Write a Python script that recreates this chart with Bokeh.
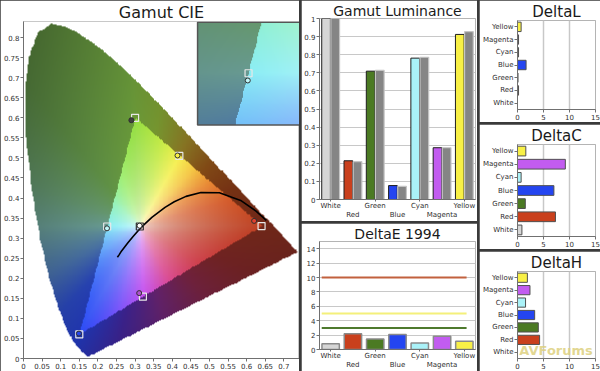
import numpy as np
from bokeh.plotting import figure
from bokeh.layouts import row, column
from bokeh.models import (Range1d, FixedTicker, CustomJSTickFormatter, LinearAxis,
                          ColumnDataSource, Label)
from bokeh.transform import dodge
from bokeh.embed import file_html
from bokeh.resources import INLINE

FONT = "DejaVu Sans"

# ---------------- data ----------------
categories = ["White", "Red", "Green", "Blue", "Cyan", "Magenta", "Yellow"]
lum_measured = [1.0, 0.214, 0.709, 0.077, 0.781, 0.286, 0.912]
lum_target = [1.0, 0.209, 0.713, 0.072, 0.786, 0.286, 0.927]
delta_e = [0.8, 2.2, 1.45, 2.1, 0.92, 1.85, 1.15]
delta_e_limits = [10, 5, 3]
delta_l = [0.0, 0.2, 0.1, 1.65, 0.2, 0.2, 0.7]
delta_c = [0.85, 7.3, 1.5, 7.0, 0.7, 9.2, 1.6]
delta_h = [0.0, 4.25, 4.0, 3.3, 1.55, 2.4, 1.9]

target_x = [0.3127, 0.64, 0.30, 0.15, 0.225, 0.321, 0.419]
target_y = [0.329, 0.33, 0.60, 0.06, 0.329, 0.154, 0.505]
meas_x = [0.312, 0.620, 0.290, 0.149, 0.2245, 0.311, 0.414]
meas_y = [0.331, 0.343, 0.594, 0.062, 0.3245, 0.163, 0.506]

# CIE 1931 spectral locus (380 .. 700 nm)
locus_x = [0.1741, 0.1733, 0.1714, 0.1689, 0.1644, 0.1566, 0.1440, 0.1355, 0.1241, 0.1096,
           0.0913, 0.0687, 0.0454, 0.0235, 0.0082, 0.0039, 0.0139, 0.0389, 0.0743, 0.1142,
           0.1547, 0.1929, 0.2296, 0.2658, 0.3016, 0.3373, 0.3731, 0.4087, 0.4441, 0.4788,
           0.5125, 0.5448, 0.5752, 0.6029, 0.6270, 0.6658, 0.6915, 0.7079, 0.7190, 0.7260,
           0.7300, 0.7334, 0.7347]
locus_y = [0.0050, 0.0048, 0.0051, 0.0069, 0.0109, 0.0177, 0.0297, 0.0399, 0.0578, 0.0868,
           0.1327, 0.2007, 0.2950, 0.4127, 0.5384, 0.6548, 0.7502, 0.8120, 0.8338, 0.8262,
           0.8059, 0.7816, 0.7543, 0.7243, 0.6923, 0.6589, 0.6245, 0.5896, 0.5547, 0.5202,
           0.4866, 0.4544, 0.4242, 0.3965, 0.3725, 0.3340, 0.3083, 0.2920, 0.2809, 0.2740,
           0.2700, 0.2666, 0.2653]

# Planckian locus (25000 K .. 1000 K)
planck_x = [0.2524, 0.2565, 0.2637, 0.2807, 0.2952, 0.3064, 0.3221, 0.3451, 0.3805,
            0.4053, 0.4369, 0.4770, 0.5267, 0.5857, 0.6251, 0.6528]
planck_y = [0.2522, 0.2577, 0.2682, 0.2883, 0.3048, 0.3166, 0.3318, 0.3516, 0.3768,
            0.3907, 0.4041, 0.4137, 0.4133, 0.3931, 0.3674, 0.3444]

cie_ticks_x = [0, 0.05, 0.1, 0.15, 0.2, 0.25, 0.3, 0.35, 0.4, 0.45, 0.5, 0.55, 0.6, 0.65, 0.7, 0.75]
cie_ticks_y = [0, 0.05, 0.1, 0.15, 0.2, 0.25, 0.3, 0.35, 0.4, 0.45, 0.5, 0.55, 0.6, 0.65, 0.7, 0.75, 0.8]
lum_ticks = [0, 0.1, 0.2, 0.3, 0.4, 0.5, 0.6, 0.7, 0.8, 0.9, 1.0]
de_ticks = [0, 2, 4, 6, 8, 10, 12, 14]
delta_ticks = [0, 5, 10, 15]

# ---------------- styles ----------------
bar_colors = ["#d6d6d6", "#c9401d", "#4b7a23", "#2445f0", "#aaf2f8", "#c25cf0", "#f8f046"]
circle_fill = ["#ffffff", "#e04030", "#404040", "#2445f0", "#bff6f8", "#b050d0", "#f8f046"]
square_line = ["#303030", "#e8e8e8", "#e8e8e8", "#e8e8e8", "#e8e8e8", "#e8e8e8", "#e8e8e8"]
limit_colors = ["#c2613e", "#f4f07a", "#4e7a2e"]

pal_in_a = [0, 15, 30, 45, 59, 75, 93, 110, 140, 180, 210, 239, 255, 273, 300, 330, 360]
pal_in_c = np.array([(190, 66, 36), (212, 90, 42), (232, 135, 50), (245, 198, 66), (246, 240, 80),
                     (196, 234, 70), (150, 222, 66), (160, 238, 112), (150, 242, 186),
                     (140, 238, 245), (100, 165, 250), (45, 75, 245), (125, 85, 250),
                     (198, 84, 240), (218, 74, 145), (206, 64, 76), (190, 66, 36)], float)
pal_out_a = [0, 20, 40, 60, 80, 95, 130, 160, 180, 205, 225, 240, 260, 285, 315, 340, 360]
pal_out_c = np.array([(112, 40, 25), (118, 50, 20), (130, 75, 22), (136, 118, 36), (118, 150, 48),
                      (104, 152, 58), (98, 148, 72), (102, 152, 112), (104, 154, 146),
                      (72, 112, 165), (40, 68, 178), (32, 52, 172), (60, 34, 138),
                      (98, 34, 106), (112, 34, 62), (112, 35, 35), (112, 40, 25)], float)


def in_poly(px, py, vx, vy):
    inside = np.zeros(px.shape, bool)
    n = len(vx)
    j = n - 1
    for i in range(n):
        xi, yi, xj, yj = vx[i], vy[i], vx[j], vy[j]
        cond = ((yi > py) != (yj > py)) & (px < (xj - xi) * (py - yi) / (yj - yi + 1e-12) + xi)
        inside ^= cond
        j = i
    return inside


W = (target_x[0], target_y[0])
TRI = [(target_x[1], target_y[1]), (target_x[2], target_y[2]), (target_x[3], target_y[3])]


def gauge(X, Y):
    t = np.full(X.shape, -np.inf)
    for i in range(3):
        vi, vj = TRI[i], TRI[(i + 1) % 3]
        nx_, ny_ = vj[1] - vi[1], -(vj[0] - vi[0])
        den = nx_ * (vi[0] - W[0]) + ny_ * (vi[1] - W[1])
        t = np.maximum(t, (nx_ * (X - W[0]) + ny_ * (Y - W[1])) / den)
    return t


def shade(X, Y):
    ang = np.degrees(np.arctan2(Y - W[1], X - W[0])) % 360
    t = gauge(X, Y)
    inner = np.stack([np.interp(ang, pal_in_a, pal_in_c[:, k]) for k in range(3)], -1)
    outer = np.stack([np.interp(ang, pal_out_a, pal_out_c[:, k]) for k in range(3)], -1)
    s = (np.clip(t, 0, 1) ** 0.42)[..., None]
    col_in = 255 * (1 - s) + inner * s
    f = np.clip(1 - 0.08 * (t - 1), 0.65, 1)[..., None]
    col_out = outer * f
    return np.where((t <= 1)[..., None], col_in, col_out)


def rgba_image(X, Y, mask):
    col = np.clip(shade(X, Y), 0, 255).astype(np.uint8)
    img = np.zeros(X.shape, dtype=np.uint32)
    view = img.view(dtype=np.uint8).reshape(X.shape + (4,))
    view[..., 0] = col[..., 0]
    view[..., 1] = col[..., 1]
    view[..., 2] = col[..., 2]
    view[..., 3] = np.where(mask, 255, 0)
    return img


# main diagram image
NX, NY = 340, 380
XW, YH = 0.75, 0.85
gx = (np.arange(NX) + 0.5) / NX * XW
gy = (np.arange(NY) + 0.5) / NY * YH
GX, GY = np.meshgrid(gx, gy)
main_img = rgba_image(GX, GY, in_poly(GX, GY, locus_x, locus_y))

# inset (zoom around cyan)
ZOOM = 4.0
IX0, IX1, IY0, IY1 = 0.468, 0.75, 0.582, 0.838
ICX, ICY = 0.605, 0.711
cx, cy = target_x[4], target_y[4]
inx, iny = 120, 110
ux = IX0 + (np.arange(inx) + 0.5) / inx * (IX1 - IX0)
uy = IY0 + (np.arange(iny) + 0.5) / iny * (IY1 - IY0)
UX, UY = np.meshgrid(ux, uy)
SX = cx + (UX - ICX) / ZOOM
SY = cy + (UY - ICY) / ZOOM
inset_img = rgba_image(SX, SY, np.ones(UX.shape, bool))

tick_fmt = CustomJSTickFormatter(code="return (Math.round(tick*100)/100).toString();")


def style(p, title_size="12px"):
    p.title.text_font = FONT
    p.title.text_font_size = title_size
    p.title.text_font_style = "normal"
    p.title.align = "center"
    p.title.text_color = "#1a1a1a"
    p.title.standoff = 0
    p.outline_line_color = "#b4b4b4"
    p.background_fill_color = "white"
    p.border_fill_color = "white"
    for ax in p.axis:
        ax.axis_label = None
        ax.major_label_text_font = FONT
        ax.major_label_text_font_size = "7px"
        ax.major_label_text_color = "#303030"
        ax.axis_line_color = "#707070"
        ax.major_tick_line_color = "#707070"
        ax.major_tick_in = 0
        ax.major_tick_out = 3
        ax.minor_tick_line_color = None
        ax.major_label_standoff = 1


# ---------------- CIE ----------------
cie = figure(width=299, height=371, x_range=Range1d(0, 0.742), y_range=Range1d(0, 0.84),
             title="Gamut CIE", output_backend="svg", toolbar_location=None,
             min_border_left=0, min_border_right=0, min_border_top=0, min_border_bottom=0)
cie.image_rgba(image=[main_img], x=0, y=0, dw=XW, dh=YH)
cie.line(planck_x, planck_y, line_color="black", line_width=1.6)
cie.scatter(target_x, target_y, marker="square", size=7, fill_color=None,
            line_color=square_line, line_width=1.2)
cie.scatter(meas_x, meas_y, marker="circle", size=5, fill_color=circle_fill,
            line_color="#303030", line_width=1)
cie.image_rgba(image=[inset_img], x=IX0, y=IY0, dw=IX1 - IX0, dh=IY1 - IY0)
cie.quad(left=[IX0], right=[IX1], bottom=[IY0], top=[IY1], fill_color=None,
         line_color="#555555", line_width=1.5)
cie.scatter([ICX + ZOOM * (target_x[4] - cx)], [ICY + ZOOM * (target_y[4] - cy)],
            marker="square", size=7, fill_color=None, line_color="#e8e8e8", line_width=1.2)
cie.scatter([ICX + ZOOM * (meas_x[4] - cx)], [ICY + ZOOM * (meas_y[4] - cy)],
            marker="circle", size=5, fill_color=circle_fill[4], line_color="#303030")
cie.xaxis.ticker = FixedTicker(ticks=cie_ticks_x)
cie.yaxis.ticker = FixedTicker(ticks=cie_ticks_y)
cie.xaxis.formatter = tick_fmt
cie.yaxis.formatter = tick_fmt
cie.grid.visible = False
style(cie, "16px")
cie.outline_line_color = "#c8c8c8"

idx = list(range(len(categories)))
even_labels = {i: c for i, c in enumerate(categories) if i % 2 == 0}
odd_labels = {i: c for i, c in enumerate(categories) if i % 2 == 1}


def stagger_axes(p):
    p.xaxis.ticker = FixedTicker(ticks=list(even_labels.keys()))
    p.xaxis.major_label_overrides = even_labels
    ax2 = LinearAxis(ticker=FixedTicker(ticks=list(odd_labels.keys())),
                     major_label_overrides=odd_labels)
    p.add_layout(ax2, "below")
    return ax2


def finish_stagger(p, ax2):
    p.xaxis[0].major_tick_out = 2
    p.xaxis[0].major_label_standoff = 0
    ax2.axis_line_color = None
    ax2.major_tick_line_color = None
    ax2.major_tick_out = 0
    ax2.major_label_standoff = -2


# ---------------- Luminance ----------------
lum = figure(width=176, height=221, x_range=Range1d(-0.5, len(categories) - 0.5),
             y_range=Range1d(0, 1.0), title="Gamut Luminance", output_backend="svg",
             toolbar_location=None, min_border_left=0, min_border_right=2,
             min_border_top=0, min_border_bottom=0)
lsrc = ColumnDataSource(dict(idx=idx, meas=lum_measured, targ=lum_target, color=bar_colors))
lum.vbar(x=dodge("idx", -0.205, range=lum.x_range), top="meas", width=0.39,
         fill_color="color", line_color="#1e1e1e", line_width=1, source=lsrc)
lum.vbar(x=dodge("idx", 0.205, range=lum.x_range), top="targ", width=0.39,
         fill_color="#858585", line_color="#c4c4c4", line_width=1.2, source=lsrc)
ax2 = stagger_axes(lum)
lum.yaxis.ticker = FixedTicker(ticks=lum_ticks)
lum.yaxis.formatter = tick_fmt
lum.ygrid.ticker = FixedTicker(ticks=lum_ticks)
lum.ygrid.grid_line_color = "#c8c8c8"
lum.xgrid.visible = False
style(lum, "14px")
finish_stagger(lum, ax2)

# ---------------- DeltaE ----------------
de = figure(width=176, height=148, x_range=Range1d(-0.5, len(categories) - 0.5),
            y_range=Range1d(0, 15), title="DeltaE 1994", output_backend="svg",
            toolbar_location=None, min_border_left=0, min_border_right=2,
            min_border_top=1, min_border_bottom=0)
dsrc = ColumnDataSource(dict(idx=idx, val=delta_e, color=bar_colors))
de.segment(x0=[-0.4] * len(delta_e_limits), x1=[len(categories) - 0.9] * len(delta_e_limits),
           y0=delta_e_limits, y1=delta_e_limits, line_color=limit_colors, line_width=2)
de.vbar(x="idx", top="val", width=0.78, fill_color="color", line_color="#8a8a8a",
        line_width=1.5, source=dsrc)
ax2e = stagger_axes(de)
de.yaxis.ticker = FixedTicker(ticks=de_ticks)
de.ygrid.ticker = FixedTicker(ticks=de_ticks)
de.ygrid.grid_line_color = "#c8c8c8"
de.xgrid.visible = False
style(de, "14px")
finish_stagger(de, ax2e)


# ---------------- Delta L / C / H ----------------
def delta_fig(title, vals, h):
    p = figure(width=121, height=h, x_range=Range1d(0, 15),
               y_range=Range1d(-0.5, len(categories) - 0.5), title=title,
               output_backend="svg", toolbar_location=None, min_border_left=0,
               min_border_right=5, min_border_top=0, min_border_bottom=0)
    src = ColumnDataSource(dict(idx=idx, val=vals, color=bar_colors))
    p.hbar(y="idx", left=0, right="val", height=0.74, fill_color="color",
           line_color="#505050", line_width=1, source=src)
    p.yaxis.ticker = FixedTicker(ticks=idx)
    p.yaxis.major_label_overrides = {i: c for i, c in enumerate(categories)}
    p.xaxis.ticker = FixedTicker(ticks=delta_ticks)
    p.xgrid.ticker = FixedTicker(ticks=delta_ticks)
    p.xgrid.grid_line_color = "#c8c8c8"
    p.xgrid.grid_line_width = 1.5
    p.ygrid.visible = False
    style(p, "15px")
    return p


dl = delta_fig("DeltaL", delta_l, 122)
dc = delta_fig("DeltaC", delta_c, 125)
dh = delta_fig("DeltaH", delta_h, 120)
# watermark kept inside the plot frame so it is not clipped
dh.add_layout(Label(x=0.35, y=-0.48, text="AVForums", text_font=FONT,
                    text_font_size="13px", text_font_style="bold",
                    text_color="#ddd07e", text_alpha=0.85, text_baseline="bottom"))

BG = {"background-color": "#3a3a3a"}
mid = column(lum, de, spacing=2, styles=BG)
right = column(dl, dc, dh, spacing=2, styles=BG)
layout = row(cie, mid, right, spacing=2, styles=BG)

open("out.html", "w").write(file_html(layout, INLINE))
